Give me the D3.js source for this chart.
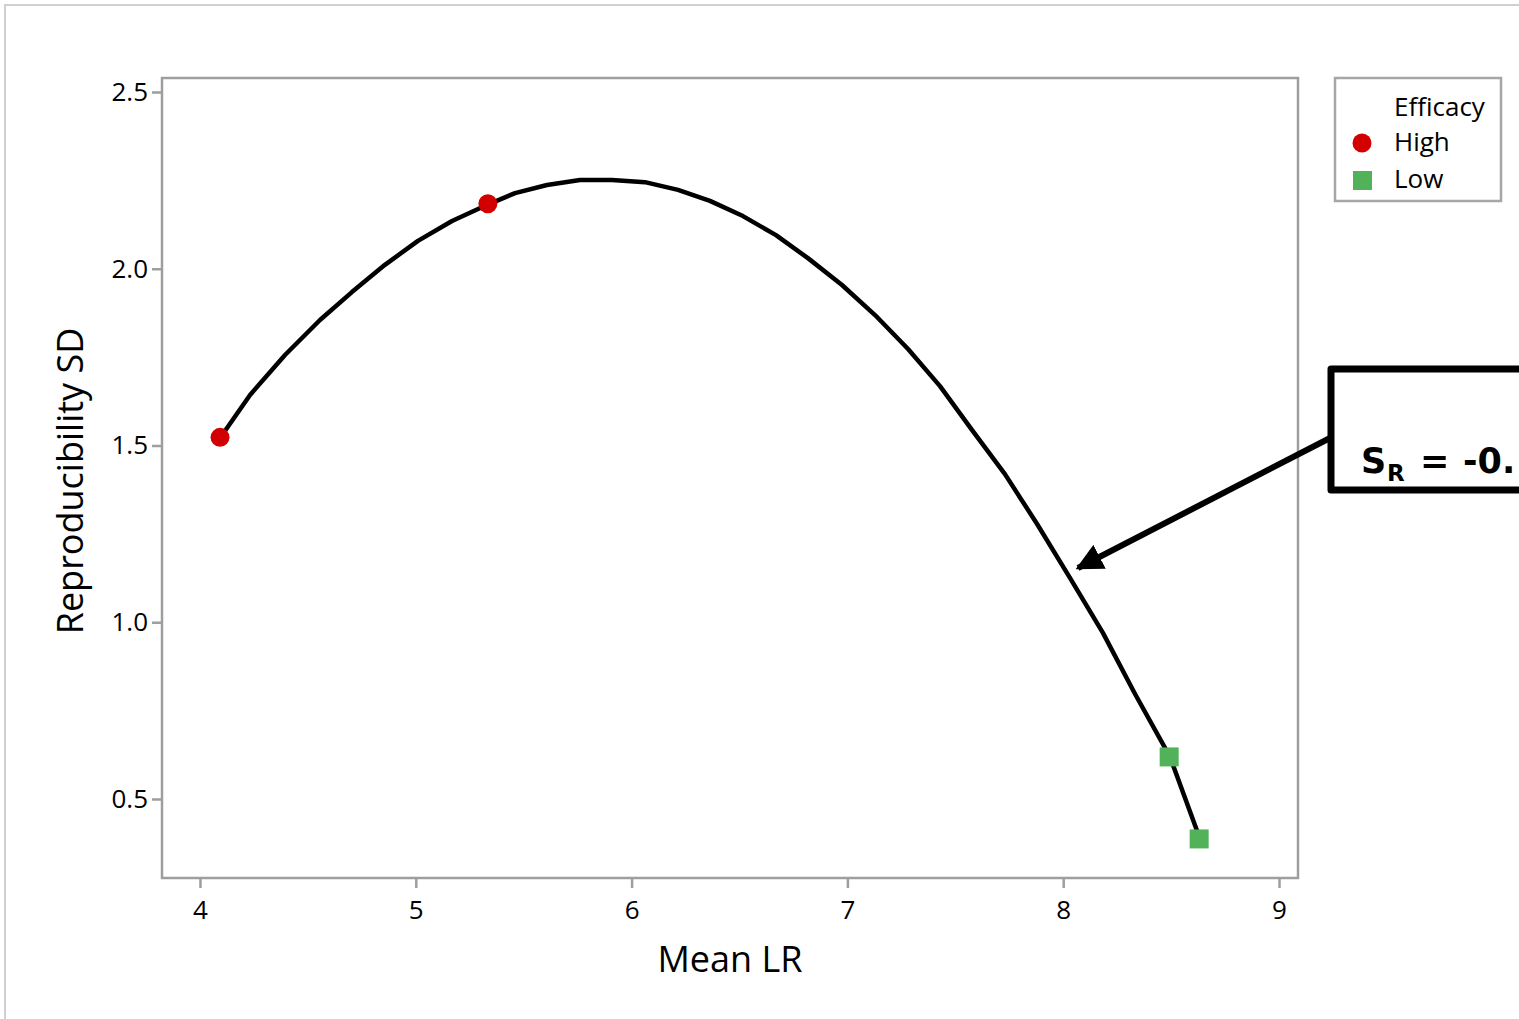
<!DOCTYPE html>
<html>
<head>
<meta charset="utf-8">
<script src="https://cdn.jsdelivr.net/npm/d3@7"></script>
<style>
  html, body { margin: 0; padding: 0; background: #fff; }
  svg { display: block; font-family: "Open Sans", "Noto Sans", sans-serif; }
</style>
</head>
<body>
<svg id="chart" width="1519" height="1019"></svg>
<script>
// fitted curve
const fitX = [4.093, 4.232, 4.394, 4.556, 4.704, 4.857, 5.010, 5.168, 5.339, 5.460, 5.608, 5.761,
  5.909, 6.062, 6.215, 6.363, 6.516, 6.669, 6.817, 6.975, 7.128, 7.281, 7.429, 7.577, 7.730,
  7.879, 8.032, 8.184, 8.333, 8.495, 8.634];
const fitY = [1.521, 1.643, 1.756, 1.855, 1.934, 2.011, 2.079, 2.135, 2.183, 2.214, 2.237, 2.251,
  2.251, 2.245, 2.223, 2.192, 2.149, 2.095, 2.030, 1.954, 1.869, 1.773, 1.668, 1.544, 1.419,
  1.278, 1.125, 0.970, 0.797, 0.619, 0.387];

// observations by efficacy
const highX = [4.093, 5.334];
const highY = [1.523, 2.184];
const lowX = [8.491, 8.630];
const lowY = [0.619, 0.387];

const xTicks = [4, 5, 6, 7, 8, 9];
const yTicks = [0.5, 1.0, 1.5, 2.0, 2.5];

const svg = d3.select('#chart');

// outer frame
svg.append('rect')
  .attr('x', 5).attr('y', 5).attr('width', 1530).attr('height', 1030)
  .attr('fill', 'none').attr('stroke', '#d0d0d0').attr('stroke-width', 2);

const pLeft = 162, pTop = 78, pRight = 1298, pBottom = 878;

const x = d3.scaleLinear().domain([3.824, 9.088]).range([pLeft, pRight]);
const y = d3.scaleLinear().domain([0.2765, 2.5396]).range([pBottom, pTop]);

// plot frame
svg.append('rect')
  .attr('x', pLeft).attr('y', pTop).attr('width', pRight - pLeft).attr('height', pBottom - pTop)
  .attr('fill', 'none').attr('stroke', '#9e9e9e').attr('stroke-width', 2.5);

const xAxis = svg.append('g')
  .attr('transform', `translate(0,${pBottom})`)
  .call(d3.axisBottom(x).tickValues(xTicks).tickFormat(d3.format('d')).tickSize(10).tickPadding(13));
const yAxis = svg.append('g')
  .attr('transform', `translate(${pLeft},0)`)
  .call(d3.axisLeft(y).tickValues(yTicks).tickFormat(d3.format('.1f')).tickSize(10).tickPadding(4));

[xAxis, yAxis].forEach(g => {
  g.attr('font-size', 26).attr('font-family', '"Open Sans", "Noto Sans", sans-serif');
  g.select('.domain').remove();
  g.selectAll('.tick line').attr('stroke', '#9e9e9e').attr('stroke-width', 2.5);
  g.selectAll('.tick text').attr('fill', '#000');
});

// axis titles
svg.append('text')
  .attr('x', (pLeft + pRight) / 2).attr('y', 972)
  .attr('text-anchor', 'middle')
  .style('font-size', '36px')
  .text('Mean LR');
svg.append('text')
  .attr('transform', `translate(83,${(pTop + pBottom) / 2 + 3}) rotate(-90)`)
  .attr('text-anchor', 'middle')
  .style('font-size', '36px')
  .text('Reproducibility SD');

// fitted line
const line = d3.line().x(d => x(d[0])).y(d => y(d[1]));
svg.append('path')
  .datum(d3.zip(fitX, fitY))
  .attr('d', line)
  .attr('fill', 'none')
  .attr('stroke', '#000')
  .attr('stroke-width', 4.5)
  .attr('stroke-linejoin', 'round');

// points
svg.selectAll('circle.high')
  .data(d3.zip(highX, highY))
  .join('circle')
  .attr('class', 'high')
  .attr('cx', d => x(d[0])).attr('cy', d => y(d[1]))
  .attr('r', 9.5)
  .attr('fill', '#d20000');
svg.selectAll('rect.low')
  .data(d3.zip(lowX, lowY))
  .join('rect')
  .attr('class', 'low')
  .attr('x', d => x(d[0]) - 9.5).attr('y', d => y(d[1]) - 9.5)
  .attr('width', 19).attr('height', 19)
  .attr('fill', '#52b25a');

// legend
const legend = svg.append('g').style('font-size', '26px');
legend.append('rect')
  .attr('x', 1335).attr('y', 78).attr('width', 166).attr('height', 123)
  .attr('fill', '#fff').attr('stroke', '#a6a6a6').attr('stroke-width', 2.5);
legend.append('text').attr('x', 1394).attr('y', 116).text('Efficacy');
legend.append('circle').attr('cx', 1362).attr('cy', 143).attr('r', 9.5).attr('fill', '#d20000');
legend.append('text').attr('x', 1394).attr('y', 151).text('High');
legend.append('rect').attr('x', 1353).attr('y', 171).attr('width', 19).attr('height', 19).attr('fill', '#52b25a');
legend.append('text').attr('x', 1394).attr('y', 188).text('Low');

// annotation box with arrow
svg.append('defs').append('marker')
  .attr('id', 'head')
  .attr('viewBox', '0 0 10 10')
  .attr('refX', 9).attr('refY', 5)
  .attr('markerWidth', 4.5).attr('markerHeight', 4.5)
  .attr('markerUnits', 'strokeWidth')
  .attr('orient', 'auto')
  .append('path').attr('d', 'M0,0 L10,5 L0,10 Z').attr('fill', '#000');

svg.append('line')
  .attr('x1', 1332).attr('y1', 437)
  .attr('x2', 1078).attr('y2', 568)
  .attr('stroke', '#000').attr('stroke-width', 6)
  .attr('marker-end', 'url(#head)');

svg.append('rect')
  .attr('x', 1331).attr('y', 369).attr('width', 260).attr('height', 121)
  .attr('fill', '#fff').attr('stroke', '#000').attr('stroke-width', 7)
  .attr('stroke-linejoin', 'round');

const ann = svg.append('text')
  .attr('y', 473)
  .style('font-family', '"DejaVu Sans", sans-serif')
  .style('font-weight', 'bold')
  .style('font-size', '35px');
ann.append('tspan').attr('x', 1361).text('S');
ann.append('tspan').attr('x', 1387).attr('dy', 8).style('font-size', '23px').text('R');
ann.append('tspan').attr('x', 1420).attr('dy', -8).text('=');
ann.append('tspan').attr('x', 1463).text('-0.');
</script>
</body>
</html>
